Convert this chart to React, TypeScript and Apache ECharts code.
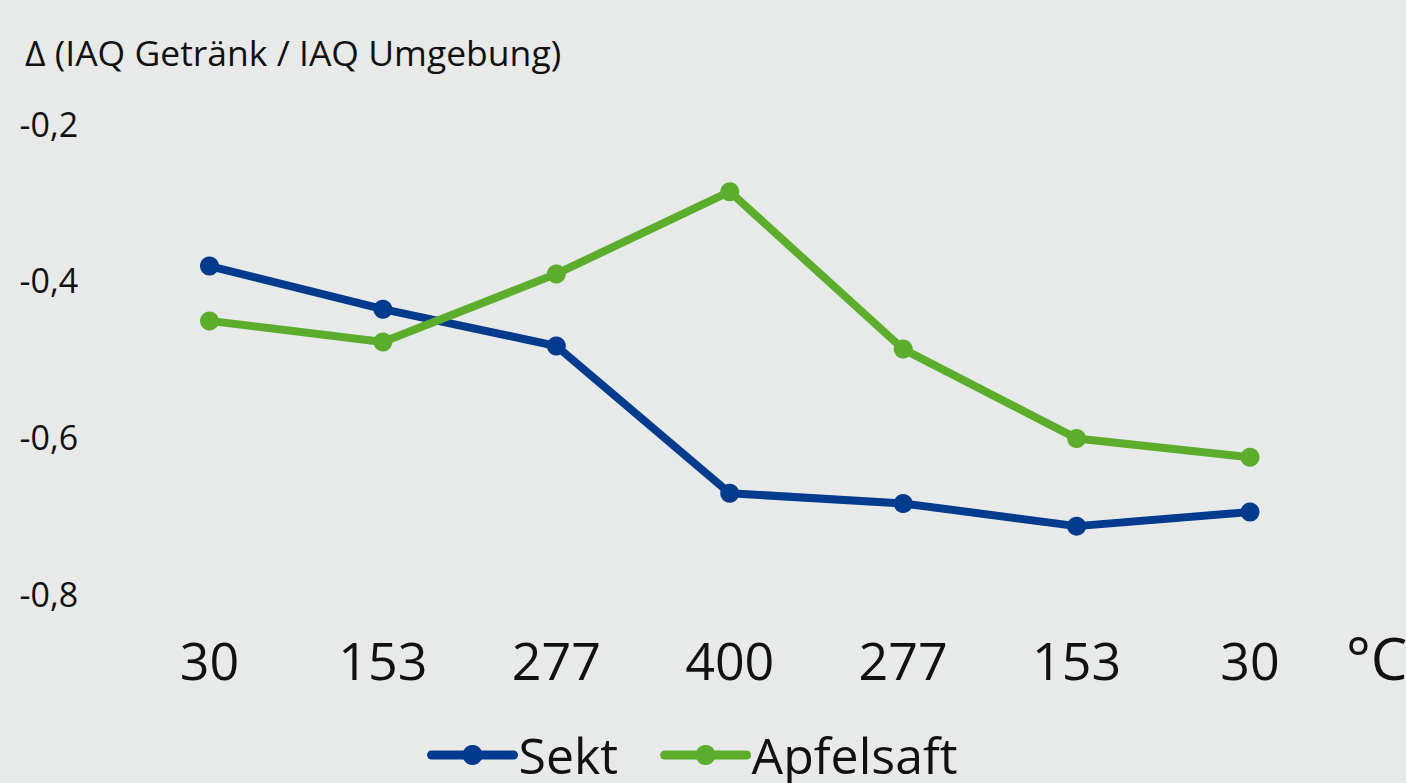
import React, { useEffect, useRef } from "react";
import * as echarts from "echarts";

const categories = ["30", "153", "277", "400", "277", "153", "30"];
const sekt = [-0.382, -0.437, -0.484, -0.672, -0.685, -0.714, -0.696];
const apfelsaft = [-0.452, -0.479, -0.392, -0.287, -0.488, -0.602, -0.626];
const yTicks = [-0.8, -0.6, -0.4, -0.2];

const FONT = "'Open Sans', 'Noto Sans', sans-serif";
const BLUE = "#003b8e";
const GREEN = "#5bad2b";

export default function App() {
  const ref = useRef<HTMLDivElement>(null);
  useEffect(() => {
    if (!ref.current) return;
    const chart = echarts.init(ref.current, undefined, { renderer: "svg" });
    chart.setOption({
      animation: false,
      backgroundColor: "#e8eaea",
      textStyle: { fontFamily: FONT },
      title: {
        text: "Δ (IAQ Getränk / IAQ Umgebung)",
        left: 20,
        top: 29,
        textStyle: { fontFamily: FONT, fontSize: 35.5, fontWeight: "normal", color: "#111" },
      },
      grid: { left: 209.5, right: 156, top: 123.5, bottom: 189.5, containLabel: false },
      xAxis: {
        type: "category",
        data: categories,
        boundaryGap: false,
        axisLine: { show: false },
        axisTick: { show: false },
        axisLabel: {
          fontSize: 52,
          color: "#111",
          margin: 66,
          verticalAlign: "middle",
          fontFamily: FONT,
        },
      },
      yAxis: {
        type: "value",
        min: -0.8,
        max: -0.2,
        interval: 0.2,
        splitLine: { show: false },
        axisLine: { show: false },
        axisTick: { show: false },
        axisLabel: {
          fontSize: 34,
          color: "#111",
          align: "left",
          margin: 190,
          fontFamily: FONT,
          formatter: (v: number) => {
            const t = yTicks.find((x) => Math.abs(x - v) < 1e-6);
            return t === undefined ? "" : t.toFixed(1).replace(".", ",");
          },
        },
      },
      legend: {
        left: 427,
        top: 730,
        padding: 0,
        itemWidth: 82,
        itemHeight: 25,
        itemGap: 42,
        lineStyle: { width: 9, cap: "round" },
        textStyle: { fontSize: 50, lineHeight: 50, color: "#111", fontFamily: FONT },
        data: ["Sekt", "Apfelsaft"],
      },
      graphic: [
        {
          type: "text",
          left: 1346,
          top: 628,
          style: { text: "°C", fontSize: 58, fill: "#111", fontFamily: FONT },
        },
      ],
      series: [
        {
          name: "Sekt",
          type: "line",
          data: sekt,
          symbol: "circle",
          symbolSize: 19,
          lineStyle: { width: 8, color: BLUE },
          itemStyle: { color: BLUE },
        },
        {
          name: "Apfelsaft",
          type: "line",
          data: apfelsaft,
          symbol: "circle",
          symbolSize: 19,
          lineStyle: { width: 8, color: GREEN },
          itemStyle: { color: GREEN },
        },
      ],
    });
    return () => chart.dispose();
  }, []);
  return (
    <div
      ref={ref}
      style={{ position: "absolute", left: 0, top: 0, width: 1406, height: 783 }}
    />
  );
}
